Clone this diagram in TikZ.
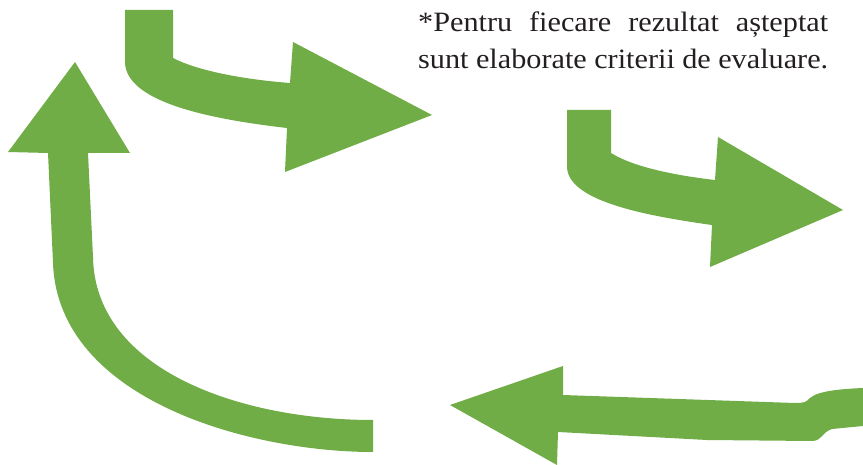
\documentclass[tikz,border=0pt]{standalone}
\usepackage{fontspec}
\setmainfont{Liberation Serif}
\newfontfamily\notefont[FakeStretch=1.08]{Liberation Serif}
\definecolor{arrowgreen}{HTML}{70AD47}
\definecolor{textdark}{HTML}{231F20}
\tikzset{
  bigarrow/.style={fill=arrowgreen, draw=none},
  notetext/.style={anchor=base west, inner sep=0pt, text=textdark, font=\notefont\fontsize{28}{34}\selectfont}
}
\begin{document}
\begin{tikzpicture}[x=1pt,y=-1pt]
\useasboundingbox (0,0) rectangle (863,465);
% top-left arrow
\fill[bigarrow] (125,10) -- (173,10) -- (173,58)
  .. controls (200,72) and (250,80) .. (290,83)
  -- (293,42) -- (432,115) -- (285,172) -- (287,128)
  .. controls (200,118) and (127,100) .. (125,63) -- cycle;
% middle-right arrow
\fill[bigarrow] (567,110) -- (611,110) -- (611,153)
  .. controls (635,168) and (680,176) .. (715,180)
  -- (718,137) -- (843,210) -- (710,267) -- (712,225)
  .. controls (640,215) and (568,200) .. (567,167) -- cycle;
% bottom arrow
\fill[bigarrow] (863,388) .. controls (840,389) and (818,391) .. (810,398)
  .. controls (806,402) and (805,403) .. (795,403)
  -- (563,395) -- (563,366) -- (450,405) -- (557,465) -- (558,432)
  -- (707,440) -- (812,441)
  .. controls (822,441) and (822,432) .. (832,429)
  -- (863,426) -- cycle;
% left arrow
\fill[bigarrow] (373,452)
  .. controls (250,452) and (58,400) .. (53,263)
  -- (48,153) -- (8,152) -- (75,62) -- (130,153) -- (88,153)
  -- (93,257)
  .. controls (95,370) and (240,420) .. (373,420) -- cycle;
% note text
\node[notetext] (l1) at (418,32) {\makebox[410pt][s]{*Pentru fiecare rezultat așteptat}};
\node[notetext] (l2) at (418,69) {\makebox[410pt][s]{sunt elaborate criterii de evaluare.}};
\end{tikzpicture}
\end{document}
